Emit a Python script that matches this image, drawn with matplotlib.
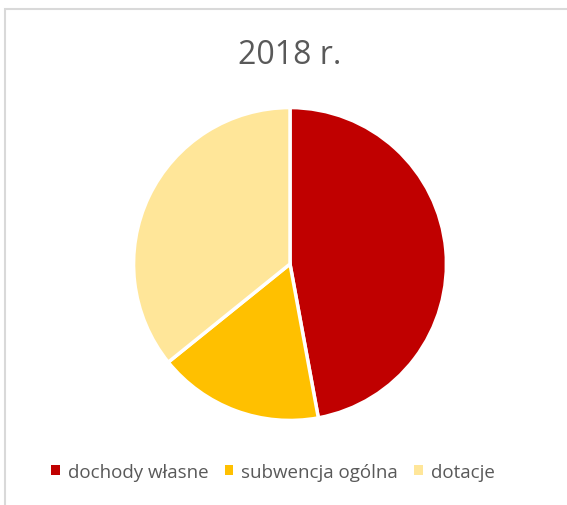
import matplotlib
matplotlib.use('Agg')
import matplotlib.pyplot as plt
from matplotlib.patches import Rectangle

labels = ['dochody własne', 'subwencja ogólna', 'dotacje']
values = [47.1, 17.1, 35.8]
colors = ['#c00000', '#ffc000', '#ffe699']

plt.rcParams['font.family'] = ['Open Sans', 'DejaVu Sans']

fig = plt.figure(figsize=(5.67, 5.06), dpi=100)

# light frame of the chart area (left and top edges visible)
fig.patches.append(Rectangle((5/567, -0.1), 1.2, 1 - 10/506 + 0.1,
                             transform=fig.transFigure, fill=False,
                             edgecolor='#d9d9d9', linewidth=1.5))

ax = fig.add_axes([132/567, 83/506, 316/567, 316/506])
wedges, _ = ax.pie(values, colors=colors, startangle=90, counterclock=False,
                   wedgeprops=dict(edgecolor='white', linewidth=2.5))
ax.set_xlim(-1.01, 1.01)
ax.set_ylim(-1.01, 1.01)
ax.set_aspect('equal')

fig.text(290/567, 1 - 55/506, '2018 r.', ha='center', va='center',
         fontsize=23, color='#595959')

handles = [Rectangle((0, 0), 1, 1, facecolor=c) for c in colors]
fig.legend(handles, labels, loc='center', bbox_to_anchor=(273/567, 1 - 473/506),
           ncol=3, frameon=False, fontsize=13.5, labelcolor='#595959',
           handlelength=0.45, handleheight=0.45, handletextpad=0.45,
           columnspacing=0.85)

fig.savefig('out.png', dpi=100)
